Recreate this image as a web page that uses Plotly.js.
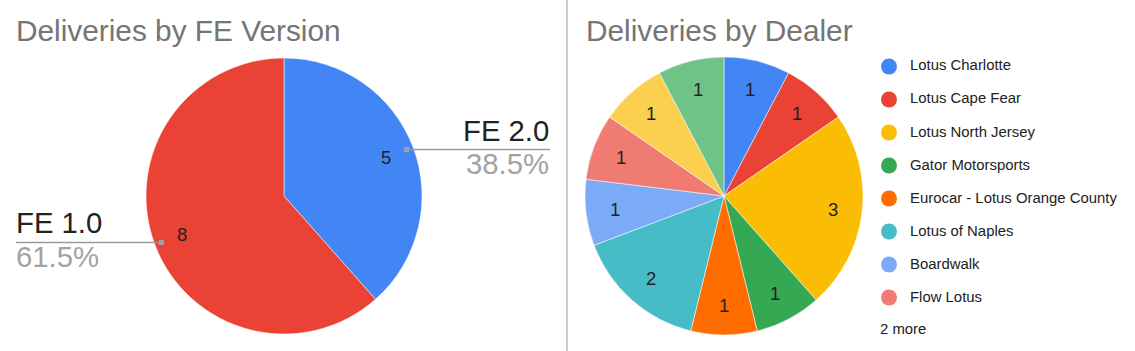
<!DOCTYPE html>
<html><head><meta charset="utf-8">
<script src="https://cdn.plot.ly/plotly-3.0.1.min.js"></script>
<style>html,body{margin:0;padding:0;background:#fff}#chart{width:1135px;height:351px}</style>
</head><body><div id="chart"></div>
<script>
// ---- data ----
const titles = ['Deliveries by FE Version', 'Deliveries by Dealer'];
const versionLabels = ['FE 2.0', 'FE 1.0'];
const versionValues = [5, 8];
const versionColors = ['#4285f4', '#ea4335'];
const dealerLabels = ['Lotus Charlotte', 'Lotus Cape Fear', 'Lotus North Jersey', 'Gator Motorsports',
  'Eurocar - Lotus Orange County', 'Lotus of Naples', 'Boardwalk', 'Flow Lotus', 'Dealer 9', 'Dealer 10'];
const dealerValues = [1, 1, 3, 1, 1, 2, 1, 1, 1, 1];
const dealerColors = ['#4285f4', '#ea4335', '#fbbc04', '#34a853', '#ff6d01', '#46bdc6', '#7baaf7', '#f07b72', '#fcd04f', '#71c287'];
const legendShown = 8;

// ---- layout helpers ----
const W = 1135, H = 351;
const px = x => x / W, py = y => 1 - y / H;
const leftPie = {cx: 284, cy: 196, r: 138};
const rightPie = {cx: 724, cy: 196, r: 139};
function domainOf(p) { return {x: [px(p.cx - p.r), px(p.cx + p.r)], y: [py(p.cy + p.r), py(p.cy - p.r)]}; }
function midAngles(vals) {
  const tot = vals.reduce((a, b) => a + b, 0); let c = 0;
  return vals.map(v => { const m = (c + v / 2) / tot * 2 * Math.PI; c += v; return m; });
}
function polar(p, a, f) { return [p.cx + f * p.r * Math.sin(a), p.cy - f * p.r * Math.cos(a)]; }

const LABEL_FONT = '"Liberation Sans", Arial, sans-serif';
const TITLE_FONT = '"Liberation Sans", Arial, sans-serif';
const annotations = [], shapes = [];

function txt(x, y, text, size, color, xanchor, family) {
  annotations.push({xref: 'paper', yref: 'paper', x: px(x), y: py(y), text: text, showarrow: false,
    xanchor: xanchor || 'center', yanchor: 'middle', borderpad: 0, borderwidth: 0,
    font: {family: family || LABEL_FONT, size: size, color: color}});
}

// titles
txt(16, 30.8, titles[0], 29.8, '#757575', 'left', TITLE_FONT);
txt(586, 30.8, titles[1], 29.8, '#757575', 'left', TITLE_FONT);

// value labels inside slices
[[leftPie, versionValues], [rightPie, dealerValues]].forEach(([p, vals]) => {
  midAngles(vals).forEach((a, i) => {
    const [x, y] = polar(p, a, 0.79);
    txt(x, y, String(vals[i]), 18.5, '#222222', 'center');
  });
});

// outside labels with leader lines for version pie
const vTot = versionValues.reduce((a, b) => a + b, 0);
midAngles(versionValues).forEach((a, i) => {
  const [dx, dy] = polar(leftPie, a, 0.95);
  const rightSide = Math.sin(a) > 0;
  const x0 = rightSide ? dx : 16, x1 = rightSide ? 550 : dx;
  shapes.push({type: 'line', xref: 'paper', yref: 'paper', x0: px(x0), x1: px(x1), y0: py(dy), y1: py(dy),
    line: {color: '#9a9a9a', width: 1.4}});
  shapes.push({type: 'rect', xref: 'paper', yref: 'paper', x0: px(dx - 2.5), x1: px(dx + 2.5), y0: py(dy + 2.5), y1: py(dy - 2.5),
    fillcolor: '#a0a0a0', line: {width: 0}});
  const tx = rightSide ? 549 : 16, anc = rightSide ? 'right' : 'left';
  txt(tx, dy - 19.5, versionLabels[i], 29.3, '#222222', anc);
  txt(tx, dy + 13.8, (versionValues[i] / vTot * 100).toFixed(1) + '%', 29.3, '#a3a3a3', anc);
});

// custom legend for dealer pie
for (let i = 0; i < legendShown; i++) {
  const cy = 66.5 + 33 * i;
  shapes.push({type: 'circle', xref: 'paper', yref: 'paper', x0: px(881), x1: px(897), y0: py(cy + 8), y1: py(cy - 8),
    fillcolor: dealerColors[i], line: {width: 0}});
  txt(910, cy - 1, dealerLabels[i], 14.9, '#222222', 'left');
}
txt(880, 328.5, (dealerLabels.length - legendShown) + ' more', 14.9, '#222222', 'left');

// divider
shapes.push({type: 'line', xref: 'paper', yref: 'paper', x0: px(567), x1: px(567), y0: 0, y1: 1,
  line: {color: '#9e9e9e', width: 1}});

const traces = [
  {type: 'pie', labels: versionLabels, values: versionValues, sort: false, direction: 'clockwise', rotation: 0,
    marker: {colors: versionColors, line: {color: '#ffffff', width: 0.5}}, textinfo: 'none',
    domain: domainOf(leftPie), showlegend: false, hoverinfo: 'label+value+percent'},
  {type: 'pie', labels: dealerLabels, values: dealerValues, sort: false, direction: 'clockwise', rotation: 0,
    marker: {colors: dealerColors, line: {color: '#ffffff', width: 0.5}}, textinfo: 'none',
    domain: domainOf(rightPie), showlegend: false, hoverinfo: 'label+value+percent'}
];

const layout = {width: W, height: H, margin: {l: 0, r: 0, t: 0, b: 0}, paper_bgcolor: '#ffffff',
  showlegend: false, annotations: annotations, shapes: shapes};
Plotly.newPlot('chart', traces, layout, {staticPlot: true, displayModeBar: false});
</script>
</body></html>
